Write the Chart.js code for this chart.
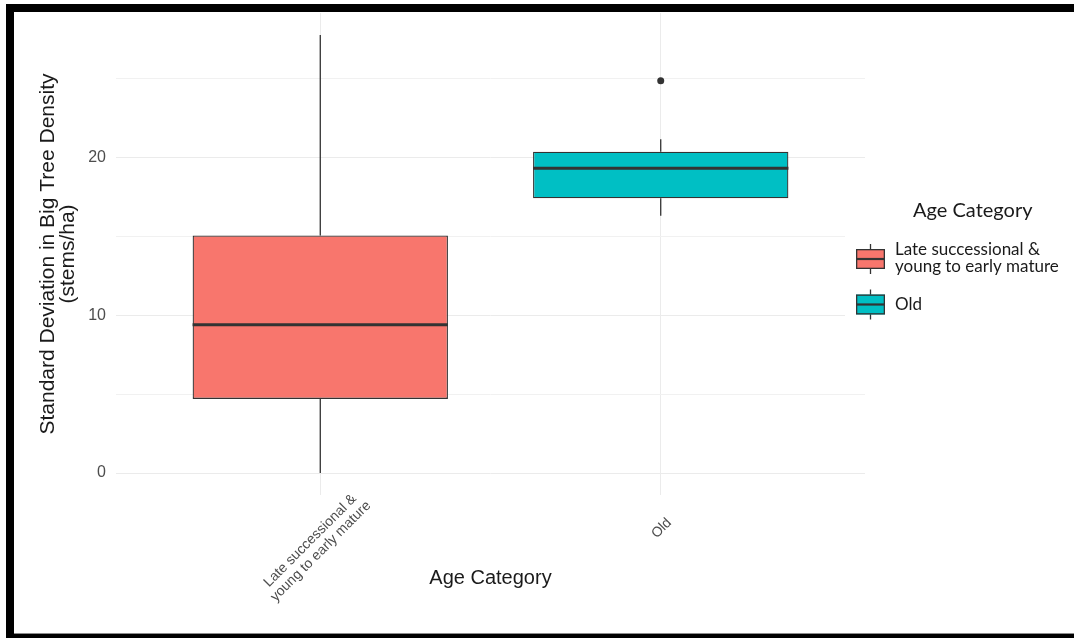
<!DOCTYPE html>
<html>
<head>
<meta charset="utf-8">
<script src="https://cdn.jsdelivr.net/npm/chart.js@4.4.1/dist/chart.umd.min.js"></script>
<style>
  html, body { margin: 0; padding: 0; background: #fff; }
  #wrap { position: relative; width: 1074px; height: 638px; overflow: hidden; background: #fff; }
  #chart { position: absolute; left: 0; top: 0; }
  #frame {
    position: absolute; left: 6px; top: 4px; right: 0; bottom: 0;
    border-top: 8px solid #000; border-left: 8px solid #000; border-bottom: 4px solid #000;
    pointer-events: none;
  }
  #frame::after { content: ''; position: absolute; left: 0; right: 0; bottom: 0; height: 1px; background: #8c8c8c; }
</style>
</head>
<body>
<div id="wrap">
  <canvas id="chart" width="1074" height="638"></canvas>
  <div id="frame"></div>
</div>
<script>
// Box-plot summary per age category (stems/ha)
const categories = [["Late successional &", "young to early mature"], ["Old"]];
const lowerWhisker = [0, 16.3];
const q1 = [4.7, 17.4];
const median = [9.4, 19.3];
const q3 = [15.05, 20.35];
const upperWhisker = [27.75, 21.15];
const outliers = [[], [24.85]];
const fills = ["#F8766D", "#00BFC4"];
const yTicks = [0, 5, 10, 15, 20, 25];
const yLabelEvery = 10;

const yTitle = ["Standard Deviation in Big Tree Density", "(stems/ha)"];
const xTitle = "Age Category";
const legendTitle = "Age Category";

// Style constants
const BOX_WIDTH = 0.75;          // in category units
const EDGE = "#333333";
const AXIS_FONT = "'Liberation Sans', Arial, sans-serif";
const LEGEND_FONT = "Lato, 'Open Sans', sans-serif";

// y range with 5% expansion like ggplot
const allVals = lowerWhisker.concat(upperWhisker, ...outliers);
const yLo = Math.min(...allVals), yHi = Math.max(...allVals);
const yPad = (yHi - yLo) * 0.05;

// Datasets built from the summary arrays
const boxData = categories.map((c, i) => ({ x: i + 1, y: [q1[i], q3[i]] }));
const whiskerData = [];
const medianData = [];
categories.forEach((c, i) => {
  const x = i + 1;
  whiskerData.push({ x, y: lowerWhisker[i] }, { x, y: q1[i] }, { x, y: null },
                   { x, y: q3[i] }, { x, y: upperWhisker[i] }, { x, y: null });
  medianData.push({ x: x - BOX_WIDTH / 2, y: median[i] }, { x: x + BOX_WIDTH / 2, y: median[i] }, { x, y: null });
});
const outlierData = [];
outliers.forEach((arr, i) => arr.forEach(v => outlierData.push({ x: i + 1, y: v })));

// Rotated category labels under the panel
const xLabelPlugin = {
  id: 'xLabels',
  afterDraw(chart) {
    const { ctx, chartArea } = chart;
    const xs = chart.scales.x;
    ctx.save();
    ctx.font = "14px " + AXIS_FONT;
    ctx.fillStyle = "#4d4d4d";
    ctx.textAlign = "center";
    ctx.textBaseline = "middle";
    const lh = 15;
    categories.forEach((lines, i) => {
      const px = xs.getPixelForValue(i + 1);
      const w = Math.max(...lines.map(l => ctx.measureText(l).width));
      const cx = px + 2 - 0.05 * w;
      const cy = chartArea.bottom + 30 + 0.155 * w;
      ctx.save();
      ctx.translate(cx, cy);
      ctx.rotate(-Math.PI / 4);
      lines.forEach((l, k) => ctx.fillText(l, 0, (k - (lines.length - 1) / 2) * lh));
      ctx.restore();
    });
    ctx.restore();
  }
};

// Legend with box-plot glyph keys
const legendPlugin = {
  id: 'boxLegend',
  afterDraw(chart) {
    const ctx = chart.ctx;
    ctx.save();
    ctx.fillStyle = "#fff";
    ctx.fillRect(845, 185, 229, 150);
    ctx.fillStyle = "#1a1a1a";
    ctx.textAlign = "left";
    ctx.textBaseline = "middle";
    ctx.font = "20px " + LEGEND_FONT;
    ctx.fillText(legendTitle, 913, 211);
    const keyCenters = [259, 304.5];
    const keyX = 856, keyW = 29, keyH = 20;
    categories.forEach((lines, i) => {
      const cy = keyCenters[i];
      const mid = keyX + keyW / 2;
      ctx.strokeStyle = EDGE;
      ctx.lineWidth = 1.3;
      ctx.beginPath();
      ctx.moveTo(mid, cy - keyH / 2 - 5); ctx.lineTo(mid, cy + keyH / 2 + 5);
      ctx.stroke();
      ctx.fillStyle = fills[i];
      ctx.fillRect(keyX, cy - keyH / 2, keyW, keyH);
      ctx.strokeRect(keyX + 0.65, cy - keyH / 2 + 0.65, keyW - 1.3, keyH - 1.3);
      ctx.lineWidth = 2.2;
      ctx.beginPath();
      ctx.moveTo(keyX, cy); ctx.lineTo(keyX + keyW, cy);
      ctx.stroke();
      ctx.fillStyle = "#1a1a1a";
      ctx.font = "17px " + LEGEND_FONT;
      const lh = 17;
      lines.forEach((l, k) => ctx.fillText(l, 895, cy + (k - (lines.length - 1) / 2) * lh - (lines.length > 1 ? 1 : 0)));
    });
    ctx.restore();
  }
};

new Chart(document.getElementById('chart'), {
  type: 'bar',
  data: {
    datasets: [
      {
        type: 'scatter', data: outlierData, order: 0,
        pointRadius: 3.5, pointBackgroundColor: EDGE, pointBorderColor: EDGE, pointBorderWidth: 0
      },
      {
        type: 'line', data: medianData, order: 1,
        borderColor: EDGE, borderWidth: 3, pointRadius: 0, spanGaps: false, borderCapStyle: 'butt'
      },
      {
        type: 'bar', data: boxData, order: 2,
        backgroundColor: fills, borderColor: EDGE, borderWidth: 1.3, borderSkipped: false,
        barPercentage: BOX_WIDTH, categoryPercentage: 1, grouped: false
      },
      {
        type: 'line', data: whiskerData, order: 3,
        borderColor: EDGE, borderWidth: 1.3, pointRadius: 0, spanGaps: false, borderCapStyle: 'butt'
      }
    ]
  },
  options: {
    responsive: false,
    animation: false,
    devicePixelRatio: 1,
    layout: { padding: { left: 0, top: 13, right: 209, bottom: 0 } },
    plugins: { legend: { display: false }, tooltip: { enabled: false } },
    scales: {
      x: {
        type: 'linear', min: 0.4, max: 2.6, offset: false,
        afterBuildTicks: s => { s.ticks = categories.map((c, i) => ({ value: i + 1 })); },
        afterFit: s => { s.height = 143; },
        ticks: { display: false },
        grid: { color: '#ebebeb', lineWidth: 1, drawTicks: false, offset: false },
        border: { display: false },
        title: { display: true, text: xTitle, color: '#1a1a1a',
                 font: { family: AXIS_FONT, size: 20, lineHeight: 1.2 }, padding: { top: 0, bottom: 48 } }
      },
      y: {
        type: 'linear', min: yLo - yPad, max: yHi + yPad,
        afterBuildTicks: s => { s.ticks = yTicks.map(v => ({ value: v })); },
        afterFit: s => { s.width = 116; },
        ticks: {
          padding: 0, color: '#4d4d4d', font: { family: AXIS_FONT, size: 16 },
          callback: v => (v % yLabelEvery === 0 ? String(v) : '')
        },
        grid: {
          drawTicks: true, tickLength: 10, tickColor: 'rgba(0,0,0,0)', lineWidth: 1,
          color: c => (c.tick && c.tick.value % yLabelEvery === 0 ? '#ebebeb' : '#f1f1f1')
        },
        border: { display: false },
        title: { display: true, text: yTitle, color: '#1a1a1a',
                 font: { family: AXIS_FONT, size: 21, lineHeight: 0.95 }, padding: { top: 38, bottom: 0 } }
      }
    }
  },
  plugins: [xLabelPlugin, legendPlugin]
});
</script>
</body>
</html>
